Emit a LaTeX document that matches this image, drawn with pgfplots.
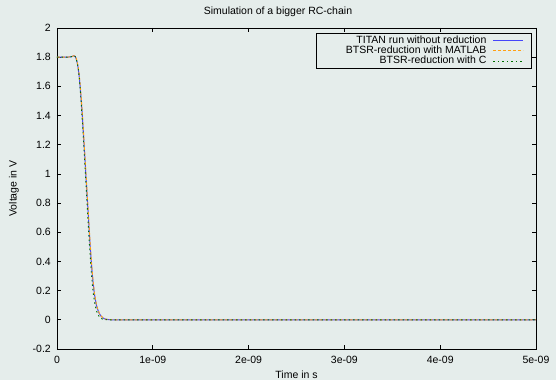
\documentclass[border=0pt]{standalone}
\usepackage{fontspec}
\setmainfont{Liberation Sans}
\usepackage{pgfplots}
\pgfplotsset{compat=1.18}
\definecolor{bgc}{RGB}{229,237,235}
\definecolor{cblue}{RGB}{70,70,250}
\definecolor{corange}{RGB}{255,160,20}
\definecolor{cgreen}{RGB}{0,110,0}
\pgfplotstableread{
t v
0.00 1.800
0.10 1.800
0.15 1.803
0.175 1.810
0.19 1.805
0.20 1.790
0.21 1.765
0.22 1.73
0.23 1.68
0.24 1.61
0.25 1.53
0.26 1.44
0.27 1.34
0.28 1.23
0.29 1.12
0.30 1.01
0.31 0.90
0.32 0.79
0.33 0.68
0.34 0.57
0.35 0.47
0.36 0.38
0.37 0.30
0.38 0.235
0.39 0.18
0.40 0.14
0.41 0.105
0.42 0.08
0.44 0.045
0.46 0.025
0.48 0.013
0.50 0.006
0.53 0.002
0.56 0.0005
0.60 0
1.0 0
5.0 0
}\titan
\pgfplotstableread{
t v
0.00 1.800
0.10 1.800
0.15 1.803
0.177 1.810
0.192 1.805
0.202 1.790
0.212 1.765
0.222 1.73
0.232 1.68
0.242 1.61
0.252 1.53
0.262 1.44
0.272 1.34
0.282 1.23
0.292 1.12
0.302 1.01
0.312 0.90
0.322 0.79
0.332 0.68
0.342 0.57
0.352 0.47
0.362 0.38
0.372 0.30
0.382 0.235
0.392 0.18
0.402 0.14
0.412 0.105
0.422 0.08
0.442 0.045
0.462 0.025
0.482 0.013
0.502 0.006
0.532 0.002
0.562 0.0005
0.60 0
1.0 0
5.0 0
}\matlab
\pgfplotstableread{
t v
0.00 1.800
0.10 1.800
0.15 1.803
0.175 1.810
0.19 1.805
0.20 1.790
0.21 1.765
0.22 1.73
0.23 1.675
0.24 1.60
0.25 1.51
0.26 1.41
0.27 1.30
0.28 1.185
0.29 1.07
0.30 0.955
0.31 0.84
0.32 0.725
0.33 0.61
0.34 0.50
0.35 0.40
0.36 0.31
0.37 0.235
0.38 0.175
0.39 0.13
0.40 0.095
0.41 0.068
0.42 0.048
0.44 0.022
0.46 0.010
0.48 0.004
0.50 0.0015
0.53 0.0003
0.56 0
1.0 0
5.0 0
}\cdata
\begin{document}
\fontsize{10.5bp}{12bp}\selectfont
\begin{tikzpicture}
\fill[bgc] (-57bp,-31bp) rectangle (499bp,349bp);
\begin{axis}[
  scale only axis, width=479bp, height=321bp,
  xmin=0, xmax=5, ymin=-0.2, ymax=2,
  xtick={0,1,2,3,4,5},
  xticklabels={0,1e-09,2e-09,3e-09,4e-09,5e-09},
  ytick={-0.2,0,0.2,0.4,0.6,0.8,1,1.2,1.4,1.6,1.8,2},
  yticklabels={-0.2,0,0.2,0.4,0.6,0.8,1,1.2,1.4,1.6,1.8,2},
  tick align=inside, tick pos=both, major tick length=4bp,
  axis line style={line width=0.9bp, black},
  every tick/.style={black, line width=0.8bp},
  font=\fontsize{10.5bp}{12bp}\selectfont,
  xticklabel style={yshift=-3.5bp},
  yticklabel style={xshift=-2.5bp},
  legend plot pos=right,
  legend cell align=right,
  legend style={at={(rel axis cs:1,1)}, anchor=north east, xshift=-3.7bp, yshift=-4.7bp,
     draw=black, line width=0.8bp, fill=bgc, font=\fontsize{10.5bp}{11bp}\selectfont,
     inner xsep=8bp, inner ysep=1bp, row sep=-1.8bp, column sep=5bp,
     nodes={inner sep=1.5bp}},
  legend image code/.code={\draw[#1] (0bp,0bp) -- (30bp,0bp);},
]
\addplot[color=cblue, line width=1bp] table[x=t,y=v] {\titan};
\addlegendentry{TITAN run without reduction}
\addplot[color=corange, line width=0.9bp, dash pattern=on 3bp off 2bp] table[x=t,y=v] {\matlab};
\addlegendentry{\hspace*{20bp}BTSR-reduction with MATLAB}
\addplot[color=cgreen, line width=0.9bp, dash pattern=on 1.5bp off 3bp] table[x=t,y=v] {\cdata};
\addlegendentry{BTSR-reduction with C}
\end{axis}
\node at (221bp,337bp) {Simulation of a bigger RC-chain};
\node at (239.5bp,-26bp) {Time in s};
\node[rotate=90] at (-43bp,160.5bp) {Voltage in V};
\pgfresetboundingbox
\path[use as bounding box] (-57bp,-31bp) rectangle (499bp,349bp);
\end{tikzpicture}
\end{document}
